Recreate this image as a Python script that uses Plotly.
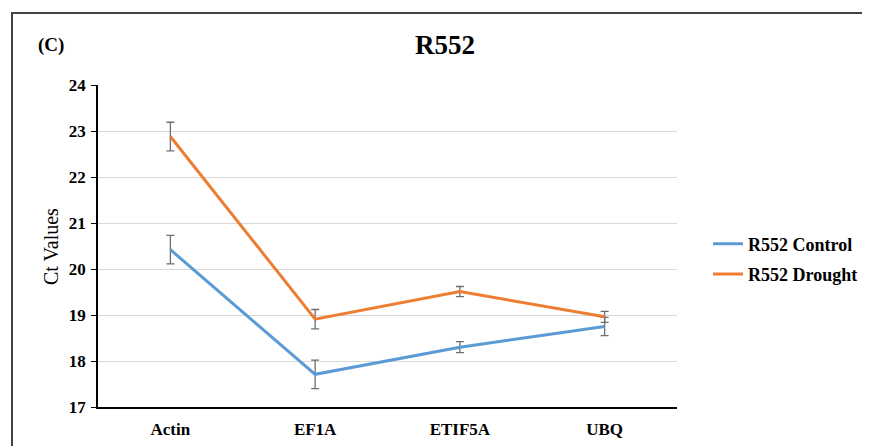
import plotly.graph_objects as go

genes = ["Actin", "EF1A", "ETIF5A", "UBQ"]
control = [20.42, 17.71, 18.30, 18.75]
control_err = [0.31, 0.31, 0.12, 0.20]
drought = [22.88, 18.91, 19.51, 18.96]
drought_err = [0.31, 0.21, 0.11, 0.12]
y_ticks = [17, 18, 19, 20, 21, 22, 23, 24]

FONT = "Liberation Serif, Times New Roman, serif"
OFF = 8  # page body margin
W, H = 870 - OFF, 446 - OFF
L, R, T, B = 98 - OFF, 677 - OFF, 85 - OFF, 407 - OFF
pw, ph = R - L, B - T

def px(x):
    return (x - OFF - L) / pw

def py(y):
    return (B - (y - OFF)) / ph

fig = go.Figure()
for name, vals, err, col, grp in [
    ("R552 Control", control, control_err, "#5B9BD5", "a"),
    ("R552 Drought", drought, drought_err, "#ED7D31", "b"),
]:
    fig.add_trace(go.Scatter(
        x=genes, y=vals, name=name, mode="lines",
        line=dict(color=col, width=3),
        legendgroup=grp,
        error_y=dict(type="data", array=err, visible=True,
                     color="#6e6e6e", thickness=1.3, width=4),
    ))

fig.update_layout(
    width=W, height=H,
    margin=dict(l=L, r=W - R, t=T, b=H - B, autoexpand=False),
    plot_bgcolor="white", paper_bgcolor="white",
    font=dict(family=FONT, color="black"),
    legend=dict(x=px(708), y=py(259), xanchor="left", yanchor="middle",
                font=dict(family=FONT, size=18, weight="bold"),
                tracegroupgap=4, bgcolor="rgba(0,0,0,0)"),
    xaxis=dict(range=[-0.5, 3.5], showline=True, linecolor="black",
               linewidth=1.5, showgrid=False, ticks="",
               ticklabelstandoff=6,
               tickfont=dict(family=FONT, size=17, weight="bold")),
    yaxis=dict(range=[17, 24], tickvals=y_ticks, showline=True,
               linecolor="black", linewidth=1.5, ticks="outside",
               ticklen=5, tickcolor="black", gridcolor="#d9d9d9",
               zeroline=False, ticklabelstandoff=2,
               tickfont=dict(family=FONT, size=17, weight="bold")),
    annotations=[
        dict(text="R552", x=px(445), y=py(45), xref="paper", yref="paper",
             xanchor="center", yanchor="middle",
             showarrow=False, font=dict(family=FONT, size=27, weight="bold")),
        dict(text="(C)", x=px(51), y=py(45), xref="paper", yref="paper",
             xanchor="center", yanchor="middle",
             showarrow=False, font=dict(family=FONT, size=19, weight="bold")),
        dict(text="Ct Values", x=px(51), y=py(246), xref="paper", yref="paper",
             xanchor="center", yanchor="middle",
             showarrow=False, textangle=-90,
             font=dict(family=FONT, size=20)),
    ],
    shapes=[
        dict(type="rect", xref="paper", yref="paper",
             x0=px(12), x1=px(900), y0=py(470), y1=py(13),
             line=dict(color="#444444", width=2)),
    ],
)

fig.write_html("out.html")
